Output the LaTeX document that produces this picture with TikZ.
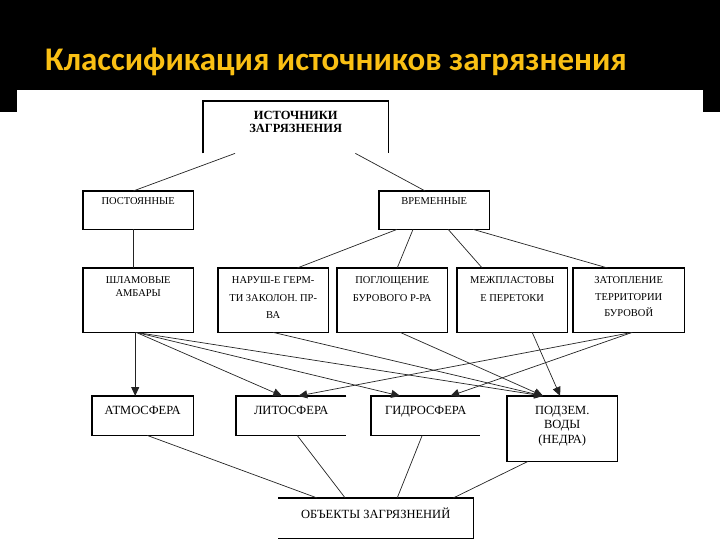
\documentclass[tikz,border=0pt]{standalone}
\usepackage{fontspec}
\setmainfont{Liberation Serif}
\newfontfamily\titlefont{Carlito}
\usepackage{xcolor}
\definecolor{titleyellow}{RGB}{250, 192, 20}
\definecolor{linkgray}{RGB}{35, 35, 35}
\usetikzlibrary{calc,positioning,arrows.meta}

\begin{document}
\begin{tikzpicture}[x=1pt, y=-1pt,
    box/.style={draw=none, rectangle, inner sep=0pt, anchor=north west},
    frame/.style={black, line width=1.1pt},
    txt/.style={anchor=north, inner sep=0pt, align=center, font=\fontsize{10.5}{17.5}\selectfont},
    bigtxt/.style={anchor=north, inner sep=0pt, align=center, font=\fontsize{12.5}{14.5}\selectfont},
    link/.style={linkgray, line width=0.7pt},
    arr/.style={link, -{Triangle[length=9pt, width=8pt]}}]
    \useasboundingbox (0,0) rectangle (720,540);
    % Slide background and title
    \fill[black] (0,0) rectangle (720,90);
    \fill[black] (0,90) rectangle (17,112);
    \fill[black] (703,90) rectangle (720,112);
    \node[anchor=base west, inner sep=0pt, text=titleyellow, font=\titlefont\bfseries\fontsize{33}{39}\selectfont] (title) at (45,71) {Классификация источников загрязнения};

    % Boxes
    \node[box, minimum width=185pt, minimum height=52pt] (src) at (203,101) {};
    \node[box, minimum width=110pt, minimum height=38pt] (post) at (83,191) {};
    \node[box, minimum width=110pt, minimum height=38pt] (vrem) at (379,191) {};
    \node[box, minimum width=110pt, minimum height=64pt] (shl) at (83,268) {};
    \node[box, minimum width=110pt, minimum height=64pt] (nar) at (218,268) {};
    \node[box, minimum width=110pt, minimum height=64pt] (pog) at (337,268) {};
    \node[box, minimum width=110pt, minimum height=64pt] (mezh) at (457,268) {};
    \node[box, minimum width=111pt, minimum height=64pt] (zat) at (573,268) {};
    \node[box, minimum width=101pt, minimum height=39pt] (atm) at (92,396) {};
    \node[box, minimum width=110pt, minimum height=39pt] (lit) at (236,396) {};
    \node[box, minimum width=109pt, minimum height=39pt] (gid) at (371,396) {};
    \node[box, minimum width=110pt, minimum height=65pt] (podz) at (507,396) {};
    \node[box, minimum width=195pt, minimum height=40pt] (obj) at (278,498) {};

    % Box outlines (some sides are left open)
    \draw[frame] (src.south west) -- (src.north west) -- (src.north east) -- (src.south east);
    \foreach \b in {post,vrem,shl,nar,pog,mezh,zat,atm,podz}
        \draw[frame] (\b.north west) rectangle (\b.south east);
    \draw[frame] (lit.north east) -- (lit.north west) -- (lit.south west) -- (lit.south east);
    \draw[frame] (gid.north east) -- (gid.north west) -- (gid.south west) -- (gid.south east);
    \draw[frame] (obj.north west) -- (obj.north east) -- (obj.south east) -- (obj.south west);

    % Box texts
    \node[bigtxt, font=\bfseries\fontsize{12.5}{13}\selectfont] (src-t) at ($(src.north)+(0,10)$) {ИСТОЧНИКИ\\ЗАГРЯЗНЕНИЯ};
    \node[txt] (post-t) at ($(post.north)+(0,6.5)$) {ПОСТОЯННЫЕ};
    \node[txt] (vrem-t) at ($(vrem.north)+(0,6.5)$) {ВРЕМЕННЫЕ};
    \node[txt, font=\fontsize{10.5}{12.5}\selectfont] (shl-t) at ($(shl.north)+(0,8.5)$) {ШЛАМОВЫЕ\\АМБАРЫ};
    \node[txt] (nar-t) at ($(nar.north)+(0,8.5)$) {НАРУШ-Е ГЕРМ-\\ТИ ЗАКОЛОН. ПР-\\ВА};
    \node[txt] (pog-t) at ($(pog.north)+(0,8.5)$) {ПОГЛОЩЕНИЕ\\БУРОВОГО Р-РА};
    \node[txt] (mezh-t) at ($(mezh.north)+(0,8.5)$) {МЕЖПЛАСТОВЫ\\Е ПЕРЕТОКИ};
    \node[txt, font=\fontsize{10.5}{16.5}\selectfont] (zat-t) at ($(zat.north)+(0,8.5)$) {ЗАТОПЛЕНИЕ\\ТЕРРИТОРИИ\\БУРОВОЙ};
    \node[bigtxt] (atm-t) at ($(atm.north)+(0,10)$) {АТМОСФЕРА};
    \node[bigtxt] (lit-t) at ($(lit.north)+(0,10)$) {ЛИТОСФЕРА};
    \node[bigtxt] (gid-t) at ($(gid.north)+(0,10)$) {ГИДРОСФЕРА};
    \node[bigtxt] (podz-t) at ($(podz.north)+(0,10)$) {ПОДЗЕМ.\\ВОДЫ\\(НЕДРА)};
    \node[bigtxt] (obj-t) at ($(obj.north)+(0,10)$) {ОБЪЕКТЫ ЗАГРЯЗНЕНИЙ};

    % Upper links
    \draw[link] ($(src.south west)+(32,0)$) -- ($(post.north)+(-5,0)$);
    \draw[link] ($(src.south east)+(-33,0)$) -- ($(vrem.north)+(-9,0)$);
    \draw[link, line width=0.9pt] ($(post.south)+(-5,0)$) -- ($(shl.north)+(-5,0)$);
    \draw[link] ($(vrem.south west)+(18,0)$) -- ($(nar.north)+(24,0)$);
    \draw[link] ($(vrem.south west)+(34,0)$) -- ($(pog.north)+(5,0)$);
    \draw[link] ($(vrem.south)+(14,0)$) -- ($(mezh.north)+(-30,0)$);
    \draw[link] ($(vrem.south)+(39,0)$) -- ($(zat.north)+(-21,0)$);

    % Arrows to the spheres
    \draw[arr, line width=1pt] ($(shl.south)+(-3,0)$) -- ($(atm.north)+(-7.5,0)$);
    \draw[arr] ($(shl.south)+(-2,0)$) -- ($(lit.north)+(-9,0)$);
    \draw[arr] ($(shl.south)+(-2,0)$) -- ($(gid.north)+(-25.5,0)$);
    \draw[arr] ($(shl.south)+(-2,0)$) -- ($(podz.north)+(-19,0)$);
    \draw[arr] (nar.south) -- ($(podz.north)+(-19,0)$);
    \draw[arr] ($(pog.south)+(8,0)$) -- ($(podz.north)+(-19,0)$);
    \draw[arr] ($(mezh.south)+(20,0)$) -- ($(podz.north)+(-2,0)$);
    \draw[arr] ($(zat.south)+(3.5,0)$) -- ($(lit.north)+(7,0)$);
    \draw[arr] ($(zat.south)+(3.5,0)$) -- ($(gid.north)+(24.5,0)$);

    % Lower links
    \draw[link] ($(atm.south)+(4.5,0)$) -- ($(obj.north)+(-58.5,0)$);
    \draw[link] ($(lit.south)+(6,0)$) -- ($(obj.north)+(-30.5,0)$);
    \draw[link] ($(gid.south)+(-3.5,0)$) -- ($(obj.north)+(21.5,0)$);
    \draw[link] ($(podz.south west)+(21,0)$) -- ($(obj.north)+(77.5,0)$);
\end{tikzpicture}
\end{document}
